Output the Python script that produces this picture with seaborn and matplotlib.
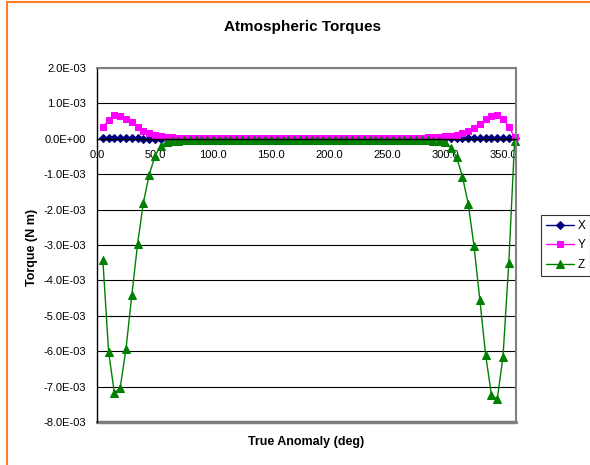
import numpy as np
import pandas as pd
import matplotlib
matplotlib.use('Agg')
import matplotlib.pyplot as plt
import seaborn as sns
from matplotlib.ticker import FuncFormatter
from matplotlib.patches import Rectangle

## Données (couples en 1E-03 N m)

anomaly = list(range(5, 361, 5))

torque_x = [0.01, 0.01, 0.01, 0.01, 0.01, 0.01, 0.01, 0.0, 0.0, -0.01, -0.01, -0.01, 0.0, 0.0,
            0.0, 0.0, 0.0, 0.0, 0.0, 0.0, 0.0, 0.0, 0.0, 0.0, 0.0, 0.0, 0.0, 0.0, 0.0,
            0.0, 0.0, 0.0, 0.0, 0.0, 0.0, 0.0, 0.0, 0.0, 0.0, 0.0, 0.0, 0.0, 0.0, 0.0,
            0.0, 0.0, 0.0, 0.0, 0.0, 0.0, 0.0, 0.0, 0.0, 0.0, 0.0, 0.0, 0.01,
            0.01, 0.01, 0.01, 0.02, 0.02, 0.02, 0.02, 0.02, 0.02, 0.02, 0.02, 0.02, 0.02, 0.02, 0.02]

torque_y = [0.32, 0.54, 0.66, 0.64, 0.57, 0.47, 0.33, 0.21, 0.15, 0.10, 0.07, 0.05, 0.04, 0.03,
            0.03, 0.03, 0.03, 0.03, 0.03, 0.03, 0.03, 0.03, 0.03, 0.03, 0.03, 0.03, 0.03, 0.03, 0.03,
            0.03, 0.03, 0.03, 0.03, 0.03, 0.03, 0.03, 0.03, 0.03, 0.03, 0.03, 0.03, 0.03, 0.03, 0.03,
            0.03, 0.03, 0.03, 0.03, 0.03, 0.03, 0.03, 0.03, 0.03, 0.03, 0.03, 0.03, 0.04,
            0.05, 0.06, 0.07, 0.08, 0.11, 0.15, 0.22, 0.30, 0.41, 0.56, 0.65, 0.66, 0.56, 0.34, 0.04]

torque_z = [-3.41, -6.01, -7.19, -7.03, -5.93, -4.42, -2.97, -1.80, -1.02, -0.48, -0.20, -0.09, -0.06, -0.05,
            -0.04, -0.04, -0.04, -0.04, -0.04, -0.04, -0.04, -0.04, -0.04, -0.04, -0.04, -0.04, -0.04, -0.04, -0.04,
            -0.04, -0.04, -0.04, -0.04, -0.04, -0.04, -0.04, -0.04, -0.04, -0.04, -0.04, -0.04, -0.04, -0.04, -0.04,
            -0.04, -0.04, -0.04, -0.04, -0.04, -0.04, -0.04, -0.04, -0.04, -0.04, -0.04, -0.04, -0.04,
            -0.05, -0.06, -0.10, -0.25, -0.52, -1.07, -1.83, -3.03, -4.54, -6.10, -7.23, -7.36, -6.15, -3.50, -0.06]

series_names = ['X', 'Y', 'Z']
series_colors = ['#000080', '#FF00FF', '#008000']
series_markers = ['D', 's', '^']
series_msize = [4.5, 5, 6]

data = pd.DataFrame({'anomaly': anomaly,
                     'X': np.array(torque_x) * 1e-3,
                     'Y': np.array(torque_y) * 1e-3,
                     'Z': np.array(torque_z) * 1e-3})

## Figure

sns.set_style('white')
plt.rcParams['font.family'] = ['Liberation Sans', 'DejaVu Sans']
plt.rcParams['text.color'] = 'black'

fig = plt.figure(figsize=(5.9, 4.65), dpi=100)
ax = fig.add_axes([97/590, 1-422/465, 419/590, 354/465])

for name, col, mk, ms in zip(series_names, series_colors, series_markers, series_msize):
    sns.lineplot(data=data, x='anomaly', y=name, ax=ax, color=col, marker=mk,
                 markersize=ms, markeredgecolor=col, lw=1, label=name, clip_on=False)

ax.set_xlim(0, 361.2)
ax.set_ylim(-8e-3, 2e-3)
ax.set_xticks(np.arange(0, 351, 50))
ax.set_yticks(np.arange(-8e-3, 2.1e-3, 1e-3))
ax.xaxis.set_major_formatter(FuncFormatter(lambda v, p: '%.1f' % v))
ax.yaxis.set_major_formatter(FuncFormatter(lambda v, p: '%.1E' % v))
ax.yaxis.grid(True, color='black', lw=0.8)
ax.set_axisbelow(True)

ax.spines['bottom'].set_position(('data', 0))
ax.spines['bottom'].set_color('black')
ax.spines['bottom'].set_linewidth(1)
ax.spines['left'].set_color('black')
ax.spines['left'].set_linewidth(1)
for s in ['top', 'right']:
    ax.spines[s].set_color('#808080')
    ax.spines[s].set_linewidth(1.5)
ax.axhline(-8e-3, color='#808080', lw=2.5, clip_on=False, zorder=0.5)

ax.tick_params(axis='both', labelsize=8, colors='black', length=4, width=0.8, direction='out')
ax.tick_params(axis='x', pad=4)
ax.tick_params(axis='y', pad=4)

ax.set_xlabel('')
ax.set_ylabel('')
fig.text(306/590, 1-442/465, 'True Anomaly (deg)', ha='center', va='center', fontsize=9, fontweight='bold')
fig.text(32/590, 1-247/465, 'Torque (N m)', ha='center', va='center', rotation=90, fontsize=9, fontweight='bold')
fig.text(302/590, 1-27/465, 'Atmospheric Torques', ha='center', va='center', fontsize=11, fontweight='bold')

leg = ax.legend(loc='upper left', bbox_to_anchor=(541/590, 1-215/465), bbox_transform=fig.transFigure,
                fontsize=8.5, frameon=True, fancybox=False, borderaxespad=0, handlelength=2.4,
                handletextpad=0.3, labelspacing=0.65, borderpad=0.4)
leg.get_frame().set_edgecolor('black')
leg.get_frame().set_linewidth(0.8)

# cadre orange autour de la figure
fig.patches.append(Rectangle((6.5/590, -0.1), 1.2, 1.1-2.5/465, transform=fig.transFigure,
                             fill=False, edgecolor='#FF7F27', lw=1.5))

fig.savefig('out.png', dpi=100)
